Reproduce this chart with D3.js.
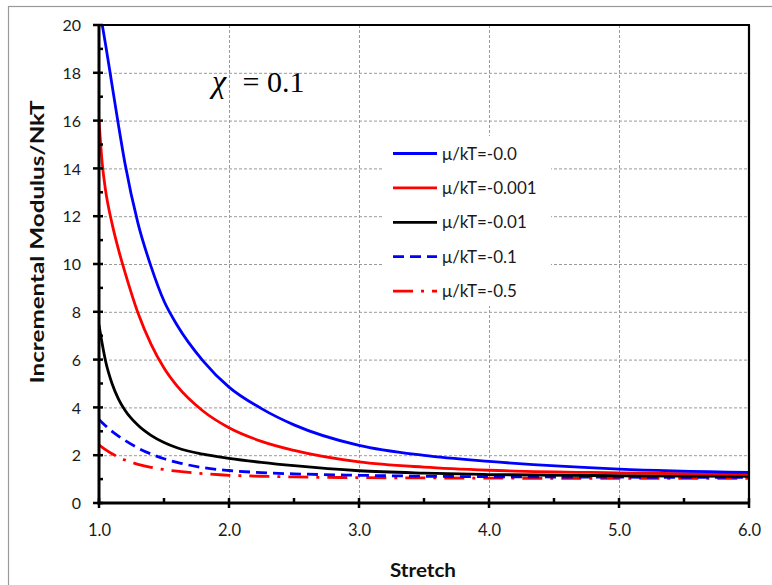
<!DOCTYPE html>
<html>
<head>
<meta charset="utf-8">
<script src="https://cdn.jsdelivr.net/npm/d3@7"></script>
<style>
  html, body { margin: 0; padding: 0; background: #fff; }
  svg { display: block; }
</style>
</head>
<body>
<svg id="chart" width="772" height="585"></svg>
<script>
// ---- data ----
const stretch = [1.0, 1.025, 1.05, 1.1, 1.15, 1.2, 1.3, 1.4, 1.5, 1.6, 1.8, 2.0, 2.25, 2.5, 3.0, 3.5, 4.0, 5.0, 6.0];
const mu00   = [20.8, 20.0, 19.2, 17.5, 15.8, 14.2, 11.7, 9.9, 8.45, 7.45, 5.95, 4.85, 3.95, 3.27, 2.41, 1.99, 1.74, 1.42, 1.28];
const mu0001 = [16.0, 14.2, 13.1, 11.7, 10.6, 9.65, 7.95, 6.65, 5.65, 4.9, 3.85, 3.15, 2.58, 2.2, 1.72, 1.5, 1.37, 1.26, 1.2];
const mu001  = [7.45, 6.65, 5.95, 5.0, 4.35, 3.88, 3.25, 2.83, 2.53, 2.31, 2.04, 1.87, 1.7, 1.56, 1.35, 1.25, 1.19, 1.14, 1.12];
const mu01   = [3.5, 3.36, 3.23, 3.0, 2.8, 2.62, 2.3, 2.05, 1.85, 1.7, 1.48, 1.36, 1.27, 1.22, 1.16, 1.12, 1.1, 1.08, 1.07];
const mu05   = [2.43, 2.33, 2.23, 2.06, 1.92, 1.8, 1.62, 1.49, 1.4, 1.33, 1.23, 1.16, 1.12, 1.09, 1.06, 1.05, 1.04, 1.03, 1.03];
const seriesNames = ["\u03bc/kT=-0.0", "\u03bc/kT=-0.001", "\u03bc/kT=-0.01", "\u03bc/kT=-0.1", "\u03bc/kT=-0.5"];
const xTicks = [1, 2, 3, 4, 5, 6];
const yTicks = [0, 2, 4, 6, 8, 10, 12, 14, 16, 18, 20];

const series = [
  { name: seriesNames[0], values: mu00,   color: "#0000ff", dash: null },
  { name: seriesNames[1], values: mu0001, color: "#ff0000", dash: null },
  { name: seriesNames[2], values: mu001,  color: "#000000", dash: null },
  { name: seriesNames[3], values: mu01,   color: "#0000ff", dash: "11,6" },
  { name: seriesNames[4], values: mu05,   color: "#ff0000", dash: "20,8,3,8" }
];

const svg = d3.select("#chart");
const L = 99, R = 749, T = 25, B = 503;
const x = d3.scaleLinear().domain([1, 6]).range([L, R]);
const y = d3.scaleLinear().domain([0, 20]).range([B, T]);
const sans = "Lato, 'Open Sans', sans-serif";

// outer chart border
svg.append("rect").attr("x", 8.5).attr("y", 6.5).attr("width", 900).attr("height", 900)
  .attr("fill", "none").attr("stroke", "#999").attr("stroke-width", 1.2);

// gridlines
const grid = svg.append("g");
grid.selectAll("line.h").data(yTicks.filter(d => d > 0 && d < 20)).enter().append("line")
  .attr("x1", L).attr("x2", R).attr("y1", d => y(d) + 0.5).attr("y2", d => y(d) + 0.5)
  .attr("stroke", "#9a9a9a").attr("stroke-width", 1).attr("stroke-dasharray", "3,2");
grid.selectAll("line.v").data(xTicks.filter(d => d > 1 && d < 6)).enter().append("line")
  .attr("y1", T).attr("y2", B).attr("x1", d => x(d) + 0.5).attr("x2", d => x(d) + 0.5)
  .attr("stroke", "#9a9a9a").attr("stroke-width", 1).attr("stroke-dasharray", "3,2");

// legend background (hides gridlines behind the legend)
svg.append("rect").attr("x", 384).attr("y", 136).attr("width", 167).attr("height", 170).attr("fill", "#fff");

// clip
svg.append("clipPath").attr("id", "clip").append("rect")
  .attr("x", L).attr("y", T).attr("width", R - L).attr("height", B - T);

const line = d3.line().x((d, i) => x(stretch[i])).y(d => y(d)).curve(d3.curveMonotoneX);
const plot = svg.append("g").attr("clip-path", "url(#clip)");
series.slice().reverse().forEach(s => {
  plot.append("path").datum(s.values).attr("d", line)
    .attr("fill", "none").attr("stroke", s.color).attr("stroke-width", 2.8)
    .attr("stroke-dasharray", s.dash);
});

// frame top/right
svg.append("line").attr("x1", L).attr("x2", R + 1).attr("y1", T).attr("y2", T)
  .attr("stroke", "#000").attr("stroke-width", 2.2);
svg.append("line").attr("x1", R).attr("x2", R).attr("y1", T).attr("y2", B)
  .attr("stroke", "#000").attr("stroke-width", 2.2);

// axes
const yAxis = d3.axisLeft(y).tickValues(yTicks).tickSize(0).tickPadding(0).tickFormat(d3.format("d"));
const xAxis = d3.axisBottom(x).tickValues(xTicks).tickSize(0).tickFormat(d3.format(".1f"));
const gy = svg.append("g").attr("transform", `translate(${L},0)`).call(yAxis);
const gx = svg.append("g").attr("transform", `translate(0,${B})`).call(xAxis);
gy.select(".domain").remove();
gx.select(".domain").remove();
gy.selectAll("text").attr("x", -18).attr("dy", "0.36em")
  .style("font-family", sans).style("font-size", "16px").attr("fill", "#1a1a1a");
gx.selectAll("text").attr("y", 27).attr("dy", "0.36em")
  .style("font-family", sans).style("font-size", "16.5px").attr("fill", "#1a1a1a");

// axis lines
svg.append("line").attr("x1", L).attr("x2", L).attr("y1", T - 1).attr("y2", B + 1.5)
  .attr("stroke", "#000").attr("stroke-width", 3);
svg.append("line").attr("x1", L - 1.5).attr("x2", R + 1).attr("y1", B).attr("y2", B)
  .attr("stroke", "#000").attr("stroke-width", 3);

// ticks
const yMinor = d3.range(1, 20, 2);
svg.selectAll("line.ymaj").data(yTicks).enter().append("line")
  .attr("x1", L - 6).attr("x2", L + 4).attr("y1", d => y(d)).attr("y2", d => y(d))
  .attr("stroke", "#000").attr("stroke-width", 2.5);
svg.selectAll("line.ymin").data(yMinor).enter().append("line")
  .attr("x1", L).attr("x2", L + 4).attr("y1", d => y(d)).attr("y2", d => y(d))
  .attr("stroke", "#000").attr("stroke-width", 2.5);
const xMinor = d3.range(1.5, 6, 1);
svg.selectAll("line.xmaj").data(xTicks).enter().append("line")
  .attr("x1", d => x(d)).attr("x2", d => x(d)).attr("y1", B - 5).attr("y2", B + 5)
  .attr("stroke", "#000").attr("stroke-width", 2.5);
svg.selectAll("line.xmin").data(xMinor).enter().append("line")
  .attr("x1", d => x(d)).attr("x2", d => x(d)).attr("y1", B - 5).attr("y2", B)
  .attr("stroke", "#000").attr("stroke-width", 2.5);

// axis titles
svg.append("text").attr("x", 423).attr("y", 577).attr("text-anchor", "middle")
  .style("font-family", sans).style("font-weight", "bold").style("font-size", "19px")
  .attr("textLength", 66).attr("lengthAdjust", "spacingAndGlyphs")
  .attr("fill", "#111").text("Stretch");
svg.append("text").attr("transform", "translate(44,242) rotate(-90)").attr("text-anchor", "middle")
  .style("font-family", sans).style("font-weight", "bold").style("font-size", "19px")
  .attr("textLength", 283).attr("lengthAdjust", "spacingAndGlyphs")
  .attr("fill", "#111").text("Incremental Modulus/NkT");

// chi annotation
const serif = "'Liberation Serif', 'Times New Roman', serif";
svg.append("text").attr("x", 212).attr("y", 92)
  .style("font-family", serif).style("font-style", "italic").style("font-size", "32px").attr("fill", "#000")
  .text("\u03c7");
svg.append("text").attr("x", 251).attr("y", 92).attr("text-anchor", "middle")
  .style("font-family", serif).style("font-size", "30px").attr("fill", "#000").text("=");
svg.append("text").attr("x", 267).attr("y", 92)
  .style("font-family", serif).style("font-size", "30px").attr("fill", "#000").text("0.1");

// legend
const leg = svg.append("g");
const legY0 = 153.5, legStep = 34.4;
series.forEach((s, i) => {
  const yy = legY0 + i * legStep;
  leg.append("line").attr("x1", 393).attr("x2", 437).attr("y1", yy).attr("y2", yy)
    .attr("stroke", s.color).attr("stroke-width", 2.8).attr("stroke-dasharray", s.dash);
  leg.append("text").attr("x", 442).attr("y", yy).attr("dy", "0.36em")
    .style("font-family", sans).style("font-size", "17px").attr("fill", "#1a1a1a")
    .text(s.name);
});
</script>
</body>
</html>
